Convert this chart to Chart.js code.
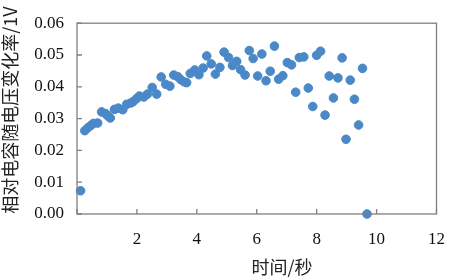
<!DOCTYPE html>
<html>
<head>
<meta charset="utf-8">
<script src="https://cdn.jsdelivr.net/npm/chart.js@4/dist/chart.umd.min.js"></script>
<style>
  html, body { margin: 0; padding: 0; background: #fff; }
  canvas { display: block; }
</style>
</head>
<body>
<canvas id="myChart" width="460" height="277"></canvas>
<script>
// data
var time_s = [0.12, 0.26, 0.36, 0.46, 0.55, 0.69, 0.82, 0.95, 1.02, 1.11,
  1.25, 1.38, 1.53, 1.66, 1.79, 1.87, 1.98, 2.08, 2.23, 2.35,
  2.51, 2.66, 2.81, 2.96, 3.10, 3.23, 3.36, 3.46, 3.57, 3.66,
  3.78, 3.93, 4.07, 4.21, 4.33, 4.48, 4.62, 4.77, 4.91, 5.06,
  5.19, 5.33, 5.46, 5.61, 5.75, 5.88, 6.03, 6.17, 6.31, 6.45,
  6.59, 6.73, 6.87, 7.02, 7.16, 7.30, 7.42, 7.57, 7.72, 7.87,
  8.00, 8.13, 8.28, 8.42, 8.56, 8.71, 8.85, 8.98, 9.12, 9.26,
  9.40, 9.53, 9.68];
var rate = [0.0073, 0.0262, 0.0271, 0.0278, 0.0285, 0.0286, 0.0321, 0.0316, 0.0309, 0.0302,
  0.0329, 0.0333, 0.0328, 0.0345, 0.0349, 0.0353, 0.0362, 0.0371, 0.0368, 0.0377,
  0.0398, 0.0377, 0.0431, 0.0408, 0.0402, 0.0437, 0.0432, 0.0423, 0.0416, 0.0413,
  0.0442, 0.0453, 0.0438, 0.0459, 0.0497, 0.0472, 0.0440, 0.0461, 0.0509, 0.0492,
  0.0467, 0.0480, 0.0454, 0.0437, 0.0514, 0.0489, 0.0434, 0.0503, 0.0419, 0.0449,
  0.0528, 0.0424, 0.0435, 0.0476, 0.0469, 0.0383, 0.0492, 0.0494, 0.0396, 0.0338,
  0.0499, 0.0512, 0.0311, 0.0434, 0.0365, 0.0428, 0.0491, 0.0235, 0.0421, 0.0361,
  0.0280, 0.0458, 0.0000];
var x_ticks = [0, 2, 4, 6, 8, 10, 12];
var y_ticks = [0, 0.01, 0.02, 0.03, 0.04, 0.05, 0.06];
var x_title = '时间/秒';
var y_title = '相对电容随电压变化率/1V';

var points = [];
for (var i = 0; i < time_s.length; ++i) {
  points.push({x: time_s[i], y: rate[i]});
}

var axisColor = '#7f7f7f';
var tickFont = {family: 'Liberation Serif', size: 17};

// frame, inward tick marks and the two axis titles
var framePlugin = {
  id: 'frame',
  afterDraw: function(chart) {
    var ctx = chart.ctx;
    var a = chart.chartArea;
    var xs = chart.scales.x, ys = chart.scales.y;
    ctx.save();
    ctx.strokeStyle = axisColor;
    ctx.lineWidth = 1.3;
    ctx.strokeRect(a.left, a.top, a.right - a.left, a.bottom - a.top);
    ctx.beginPath();
    x_ticks.forEach(function(v) {
      var px = xs.getPixelForValue(v);
      ctx.moveTo(px, a.bottom);
      ctx.lineTo(px, a.bottom - 5);
    });
    y_ticks.forEach(function(v) {
      var py = ys.getPixelForValue(v);
      ctx.moveTo(a.left, py);
      ctx.lineTo(a.left + 5, py);
    });
    ctx.stroke();

    ctx.fillStyle = '#222';
    ctx.font = '18px "Noto Sans CJK SC"';
    ctx.textAlign = 'center';
    ctx.textBaseline = 'middle';
    ctx.fillText(x_title, 282, 267);
    ctx.translate(10, 110);
    ctx.rotate(-Math.PI / 2);
    ctx.fillText(y_title, 0, 0);
    ctx.restore();
  }
};

var ctx = document.getElementById('myChart');
var myChart = new Chart(ctx, {
  type: 'scatter',
  data: {
    datasets: [{
      label: 'rate',
      data: points,
      backgroundColor: '#4a88c7',
      borderColor: '#4a88c7',
      pointRadius: 4.3,
      pointHoverRadius: 4.3,
      clip: false
    }]
  },
  options: {
    responsive: false,
    animation: false,
    devicePixelRatio: 1,
    layout: {padding: {top: 4, right: 6, left: 0, bottom: 0}},
    plugins: {legend: {display: false}, tooltip: {enabled: false}},
    scales: {
      x: {
        type: 'linear', min: 0, max: 12,
        afterBuildTicks: function(s) { s.ticks = x_ticks.map(function(v) { return {value: v}; }); },
        afterFit: function(s) { s.height = 63; },
        grid: {display: false, drawTicks: false},
        border: {display: false},
        ticks: {
          font: tickFont, color: '#111', padding: 15, maxRotation: 0, autoSkip: false,
          callback: function(v) { return v === 0 ? '' : String(v); }
        }
      },
      y: {
        type: 'linear', min: 0, max: 0.06,
        afterBuildTicks: function(s) { s.ticks = y_ticks.map(function(v) { return {value: v}; }); },
        afterFit: function(s) { s.width = 77; },
        grid: {display: false, drawTicks: false},
        border: {display: false},
        ticks: {
          font: tickFont, color: '#111', padding: 13, autoSkip: false,
          callback: function(v) { return Number(v).toFixed(2); }
        }
      }
    }
  },
  plugins: [framePlugin]
});
</script>
</body>
</html>
